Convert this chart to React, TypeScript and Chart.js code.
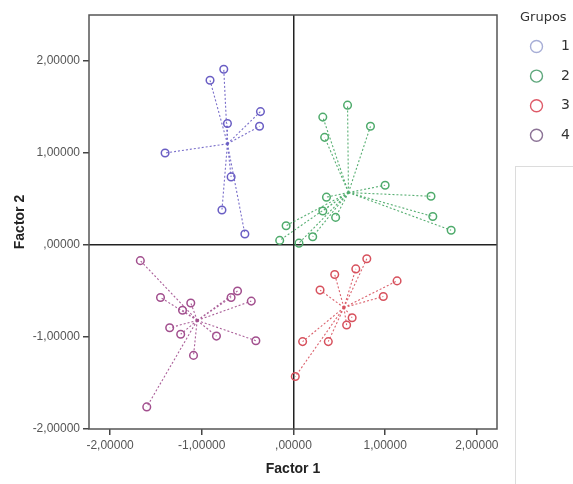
import React, { useEffect, useRef } from "react";
import { Chart, registerables } from "chart.js";

Chart.register(...registerables);

const groupLabels = ["1", "2", "3", "4"];

const g1X = [-0.91, -0.76, -0.72, -0.36, -0.37, -1.40, -0.68, -0.78, -0.53];
const g1Y = [1.79, 1.91, 1.32, 1.45, 1.29, 1.00, 0.74, 0.38, 0.12];
const g1C = [-0.72, 1.10];

const g2X = [0.59, 0.32, 0.84, 0.34, 1.00, 1.50, 1.52, 1.72, 0.36, 0.32, 0.46, -0.08, -0.15, 0.06, 0.21];
const g2Y = [1.52, 1.39, 1.29, 1.17, 0.65, 0.53, 0.31, 0.16, 0.52, 0.37, 0.30, 0.21, 0.05, 0.02, 0.09];
const g2C = [0.60, 0.57];

const g3X = [0.80, 0.68, 0.45, 0.29, 1.13, 0.98, 0.64, 0.58, 0.38, 0.10, 0.02];
const g3Y = [-0.15, -0.26, -0.32, -0.49, -0.39, -0.56, -0.79, -0.87, -1.05, -1.05, -1.43];
const g3C = [0.55, -0.68];

const g4X = [-1.67, -1.45, -1.12, -1.21, -1.35, -1.23, -1.09, -1.60, -0.84, -0.68, -0.61, -0.46, -0.41];
const g4Y = [-0.17, -0.57, -0.63, -0.71, -0.90, -0.97, -1.20, -1.76, -0.99, -0.57, -0.50, -0.61, -1.04];
const g4C = [-1.05, -0.82];

const xTicks = [-2, -1, 0, 1, 2];
const yTicks = [-2, -1, 0, 1, 2];

const pointColors = ["#6a5ec4", "#4fab6c", "#d7515d", "#a24f8e"];
const lineColors = ["rgba(106,94,196,0.9)", "rgba(79,171,108,0.95)", "rgba(215,81,93,0.9)", "rgba(162,79,142,0.9)"];
const legendColors = ["#a7aed6", "#5ea77c", "#de5a68", "#8c7396"];

const groups = [
  { xs: g1X, ys: g1Y, c: g1C },
  { xs: g2X, ys: g2Y, c: g2C },
  { xs: g3X, ys: g3Y, c: g3C },
  { xs: g4X, ys: g4Y, c: g4C },
];

const fmt = (v: number) => v.toFixed(5).replace(".", ",").replace(/^(-?)0,/, "$1,");

const framePlugin = {
  id: "frame",
  afterDraw(chart: any) {
    const { ctx, chartArea } = chart;
    ctx.save();
    ctx.strokeStyle = "#555";
    ctx.lineWidth = 1.5;
    ctx.strokeRect(chartArea.left, chartArea.top, chartArea.right - chartArea.left, chartArea.bottom - chartArea.top);
    ctx.strokeStyle = "#dcdcdc";
    ctx.lineWidth = 1;
    ctx.strokeRect(515.5, 166.5, 100, 400);
    ctx.fillStyle = "#333";
    ctx.font = "13px 'DejaVu Sans'";
    ctx.textBaseline = "middle";
    ctx.textAlign = "left";
    ctx.fillText("Grupos", 520, 18);
    ctx.font = "14px 'DejaVu Sans'";
    groupLabels.forEach((lab, i) => {
      const cy = 46.5 + i * 29.6;
      ctx.beginPath();
      ctx.arc(536.5, cy, 6, 0, Math.PI * 2);
      ctx.strokeStyle = legendColors[i];
      ctx.lineWidth = 1.4;
      ctx.stroke();
      ctx.fillStyle = "#333";
      ctx.fillText(lab, 561, cy);
    });
    ctx.restore();
  },
};

export default function App() {
  const ref = useRef<HTMLCanvasElement>(null);
  useEffect(() => {
    if (!ref.current) return;
    const datasets: any[] = [];
    groups.forEach((g, gi) => {
      const pts = g.xs.map((x, i) => ({ x, y: g.ys[i] }));
      const rays: any[] = [];
      g.xs.forEach((x, i) => {
        rays.push({ x: g.c[0], y: g.c[1] });
        rays.push({ x, y: g.ys[i] });
        rays.push({ x, y: null });
      });
      datasets.push({
        type: "line",
        label: "rays" + gi,
        data: rays,
        borderColor: lineColors[gi],
        borderWidth: 1.1,
        borderDash: [2, 2],
        pointRadius: 0,
        tension: 0,
        fill: false,
        spanGaps: false,
        order: 2,
      });
      datasets.push({
        type: "scatter",
        label: groupLabels[gi],
        data: pts,
        borderColor: pointColors[gi],
        backgroundColor: "rgba(255,255,255,0)",
        pointRadius: 3.8,
        pointBorderWidth: 1.5,
        order: 0,
      });
      datasets.push({
        type: "scatter",
        label: "c" + gi,
        data: [{ x: g.c[0], y: g.c[1] }],
        borderColor: pointColors[gi],
        backgroundColor: pointColors[gi],
        pointRadius: 1.6,
        pointBorderWidth: 0,
        order: 1,
      });
    });

    const tickFont = { family: "'Liberation Sans', Arial, sans-serif", size: 12 };
    const titleFont = { family: "'Liberation Sans', Arial, sans-serif", size: 14, weight: "bold" as const };

    const chart = new Chart(ref.current, {
      type: "scatter",
      data: { datasets },
      plugins: [framePlugin],
      options: {
        animation: false,
        responsive: false,
        devicePixelRatio: 1,
        layout: { padding: { top: 15, right: 76, left: 0, bottom: 0 } },
        plugins: { legend: { display: false }, tooltip: { enabled: false } },
        scales: {
          x: {
            type: "linear",
            min: -2.23,
            max: 2.22,
            afterBuildTicks: (s: any) => {
              s.ticks = xTicks.map((v) => ({ value: v }));
            },
            afterFit: (s: any) => {
              s.height = 55;
            },
            ticks: { includeBounds: false, callback: (v: any) => fmt(Number(v)), font: tickFont, color: "#555", padding: 3, maxRotation: 0 },
            grid: {
              color: (c: any) => (c.tick && c.tick.value === 0 ? "#222" : "rgba(0,0,0,0)"),
              lineWidth: 1.5,
              tickColor: "#444",
              tickLength: 6,
              tickWidth: 1.5,
            },
            border: { display: false },
            title: { display: true, text: "Factor 1", font: titleFont, color: "#222", padding: { top: 0, bottom: 6 } },
          },
          y: {
            type: "linear",
            min: -2.0,
            max: 2.5,
            afterBuildTicks: (s: any) => {
              s.ticks = yTicks.map((v) => ({ value: v }));
            },
            afterFit: (s: any) => {
              s.width = 89;
            },
            ticks: { includeBounds: false, callback: (v: any) => fmt(Number(v)), font: tickFont, color: "#555", padding: 3 },
            grid: {
              color: (c: any) => (c.tick && c.tick.value === 0 ? "#222" : "rgba(0,0,0,0)"),
              lineWidth: 1.5,
              tickColor: "#444",
              tickLength: 6,
              tickWidth: 1.5,
            },
            border: { display: false },
            title: { display: true, text: "Factor 2", font: titleFont, color: "#222", padding: { top: 12, bottom: 0 } },
          },
        },
      },
    });
    return () => chart.destroy();
  }, []);

  return (
    <div style={{ position: "absolute", left: 0, top: 0, width: 573, height: 484, background: "#fff" }}>
      <canvas ref={ref} width={573} height={484} style={{ display: "block" }} />
    </div>
  );
}
